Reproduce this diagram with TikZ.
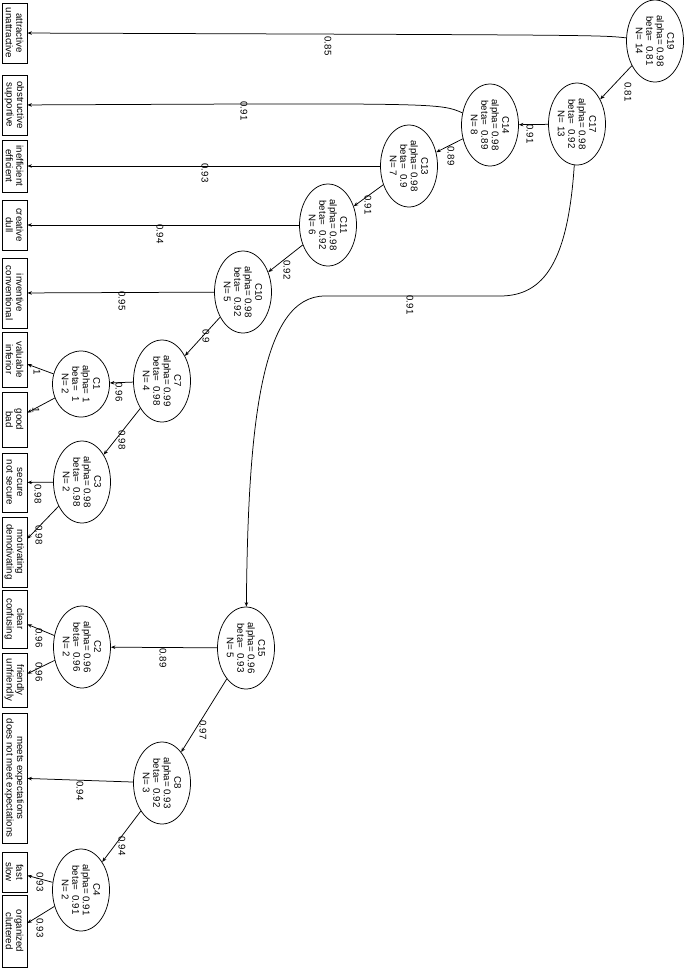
\documentclass[tikz,border=0pt]{standalone}
\usepackage{fontspec}
\setmainfont{Liberation Sans}
\usetikzlibrary{shapes.geometric,arrows.meta}
\begin{document}
\begin{tikzpicture}[x=1pt,y=-1pt,
  every node/.style={font=\fontsize{9.7}{10.5}\selectfont},
  cl/.style={ellipse,draw,rotate=-90,align=center,inner sep=0pt,minimum width=82pt,minimum height=57pt,line width=0.75pt},
  item/.style={rectangle,draw,rotate=-90,align=center,inner xsep=2pt,inner ysep=0pt,minimum height=25pt,line width=0.75pt},
  lbl/.style={rotate=-90,inner sep=0pt},
  arr/.style={-{Stealth[length=4.5pt,width=3.5pt]},line width=0.75pt}]
\useasboundingbox (0,0) rectangle (685,975);

% cluster nodes
\node[cl] (c19) at (655,41) {C19\\alpha= 0.98\\beta=\ \ 0.81\\N= 14};
\node[cl] (c17) at (577,124) {C17\\alpha= 0.98\\beta=\ \ 0.92\\N= 13};
\node[cl] (c14) at (490,125) {C14\\alpha= 0.98\\beta=\ \ 0.89\\N= 8};
\node[cl] (c13) at (409,166) {C13\\alpha= 0.98\\beta=\ \ 0.9\\N= 7};
\node[cl] (c11) at (328,225) {C11\\alpha= 0.98\\beta=\ \ 0.92\\N= 6};
\node[cl] (c10) at (243,292) {C10\\alpha= 0.98\\beta=\ \ 0.92\\N= 5};
\node[cl] (c7) at (162,381) {C7\\alpha= 0.99\\beta=\ \ 0.98\\N= 4};
\node[cl,minimum width=66pt] (c1) at (81,384) {C1\\alpha= 1\\beta=\ \ 1\\N= 2};
\node[cl] (c3) at (82,482) {C3\\alpha= 0.98\\beta=\ \ 0.98\\N= 2};
\node[cl] (c15) at (246,648) {C15\\alpha= 0.96\\beta=\ \ 0.93\\N= 5};
\node[cl] (c2) at (82,647) {C2\\alpha= 0.96\\beta=\ \ 0.96\\N= 2};
\node[cl] (c8) at (162,783) {C8\\alpha= 0.93\\beta=\ \ 0.92\\N= 3};
\node[cl] (c4) at (81,890) {C4\\alpha= 0.91\\beta=\ \ 0.91\\N= 2};

% item boxes
\node[item,minimum width=60pt] (attr) at (14.5,33) {attractive\\unattractive};
\node[item,minimum width=60pt] (obst) at (14.5,105) {obstructive\\supportive};
\node[item,minimum width=52pt] (ineff) at (14.5,166) {inefficient\\efficient};
\node[item,minimum width=50pt] (crea) at (14.5,225) {creative\\dull};
\node[item,minimum width=70pt] (inv) at (14.5,293) {inventive\\conventional};
\node[item,minimum width=55pt] (val) at (14.5,359.5) {valuable\\inferior};
\node[item,minimum width=55pt] (good) at (14.5,419.5) {good\\bad};
\node[item,minimum width=59pt] (sec) at (14.5,482.5) {secure\\not secure};
\node[item,minimum width=70pt] (mot) at (14.5,552) {motivating\\demotivating};
\node[item,minimum width=58pt] (clear) at (14.5,619) {clear\\confusing};
\node[item,minimum width=54pt] (fri) at (14.5,680) {friendly\\unfriendly};
\node[item,minimum width=130pt] (meets) at (14.5,778) {meets expectations\\does not meet expectations};
\node[item,minimum width=40pt] (fast) at (14.5,872) {fast\\slow};
\node[item,minimum width=72pt] (org) at (14.5,931) {organized\\cluttered};

% connectors
\draw[arr] (c19) .. controls (600,35) .. (attr);
\draw[arr] (c19) -- (c17);
\draw[arr] (c17) -- (c14);
\draw[arr] (c14) .. controls (440,103) .. (obst);
\draw[arr] (c14) -- (c13);
\draw[arr] (c13) -- (ineff);
\draw[arr] (c13) -- (c11);
\draw[arr] (c11) -- (crea);
\draw[arr] (c11) -- (c10);
\draw[arr] (c10) -- (inv);
\draw[arr] (c10) -- (c7);
\draw[arr] (c7) -- (c1);
\draw[arr] (c1) -- (val);
\draw[arr] (c1) -- (good);
\draw[arr] (c7) -- (c3);
\draw[arr] (c3) -- (sec);
\draw[arr] (c3) -- (mot);
\draw[arr] (c17) .. controls (568,260) and (545,296) .. (500,296) -- (325,296) .. controls (262,296) and (248,420) .. (c15);
\draw[arr] (c15) -- (c2);
\draw[arr] (c2) -- (clear);
\draw[arr] (c2) -- (fri);
\draw[arr] (c15) -- (c8);
\draw[arr] (c8) -- (meets);
\draw[arr] (c8) -- (c4);
\draw[arr] (c4) -- (fast);
\draw[arr] (c4) -- (org);

% edge labels
\node[lbl] (l1) at (328,46) {0.85};
\node[lbl] (l2) at (628,92) {0.81};
\node[lbl] (l3) at (530,134) {0.91};
\node[lbl] (l4) at (244,111) {0.91};
\node[lbl] (l5) at (451,156) {0.89};
\node[lbl] (l6) at (205,173) {0.93};
\node[lbl] (l7) at (368,205) {0.91};
\node[lbl] (l8) at (160,234) {0.94};
\node[lbl] (l9) at (287,270) {0.92};
\node[lbl] (l10) at (122,301) {0.95};
\node[lbl] (l11) at (206,336) {0.9};
\node[lbl] (l12) at (119,392) {0.96};
\node[lbl] (l13) at (37,372) {1};
\node[lbl] (l14) at (36,410) {1};
\node[lbl] (l15) at (122,440) {0.98};
\node[lbl] (l16) at (38,494) {0.98};
\node[lbl] (l17) at (39,535) {0.98};
\node[lbl] (l18) at (410,305) {0.91};
\node[lbl] (l19) at (163,658) {0.89};
\node[lbl] (l20) at (39,638) {0.96};
\node[lbl] (l21) at (39,672) {0.96};
\node[lbl] (l22) at (203,730) {0.97};
\node[lbl] (l23) at (80,791) {0.94};
\node[lbl] (l24) at (122,846) {0.94};
\node[lbl] (l25) at (40,882) {0.93};
\node[lbl] (l26) at (40,928) {0.93};
\end{tikzpicture}
\end{document}
